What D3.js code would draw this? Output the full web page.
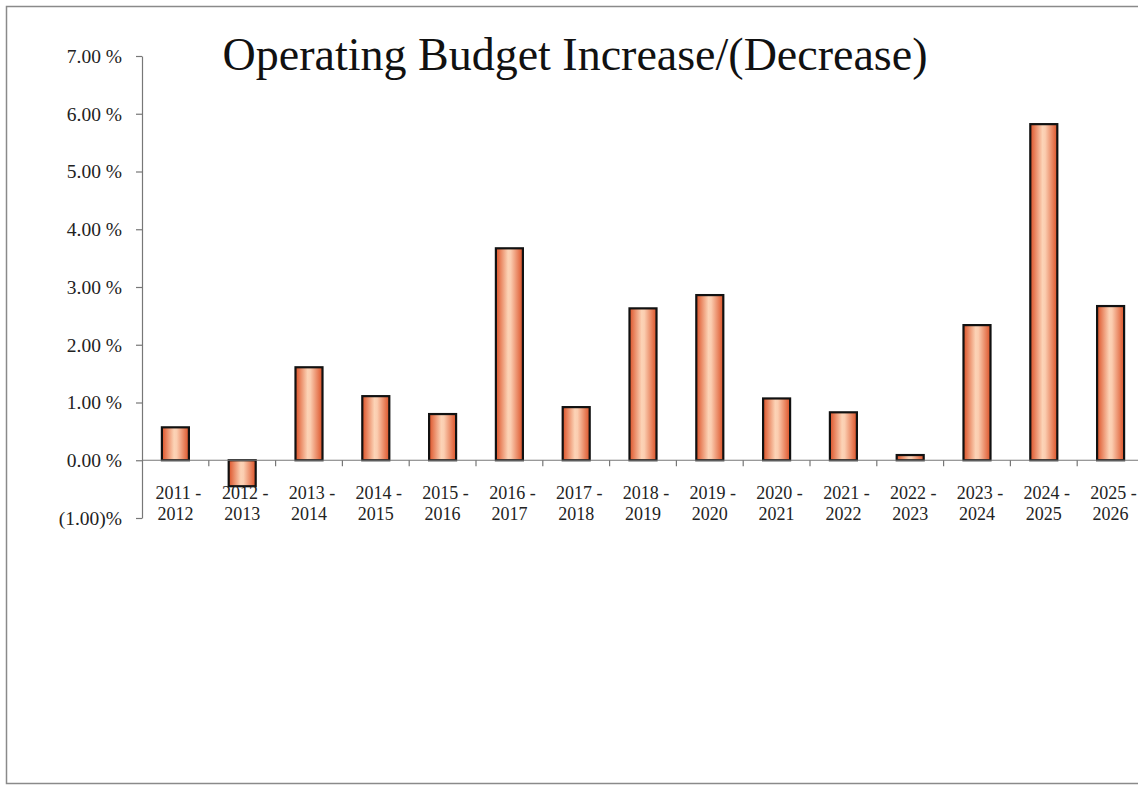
<!DOCTYPE html>
<html>
<head>
<meta charset="utf-8">
<script src="https://cdn.jsdelivr.net/npm/d3@7"></script>
<style>
  html, body { margin: 0; padding: 0; background: #fff; }
  svg { display: block; }
  svg text { font-family: "Liberation Serif", "Times New Roman", serif; }
</style>
</head>
<body>
<svg id="chart" width="1138" height="785"></svg>
<script>
// Fiscal years and the year-over-year change in the operating budget (%)
const periods = [
  "2011 - 2012", "2012 - 2013", "2013 - 2014", "2014 - 2015", "2015 - 2016",
  "2016 - 2017", "2017 - 2018", "2018 - 2019", "2019 - 2020", "2020 - 2021",
  "2021 - 2022", "2022 - 2023", "2023 - 2024", "2024 - 2025", "2025 - 2026"
];
const changePct = [0.57, -0.45, 1.61, 1.11, 0.80, 3.67, 0.92, 2.63, 2.86, 1.07, 0.83, 0.09, 2.34, 5.82, 2.67];
const yTicks = [-1, 0, 1, 2, 3, 4, 5, 6, 7];

(function () {
  const svg = d3.select("#chart");

  // page frame
  svg.append("path")
    .attr("d", "M1138,6.5 H6.5 V783.5 H1138")
    .attr("fill", "none")
    .attr("stroke", "#8a8a8a")
    .attr("stroke-width", 1.5);

  const plotLeft = 142, plotRight = 1144, plotTop = 56, plotBottom = 518;

  const x = d3.scaleBand().domain(periods).range([plotLeft, plotRight]).paddingInner(0).paddingOuter(0);
  const y = d3.scaleLinear().domain([-1, 7]).range([plotBottom, plotTop]);

  // bar fill: dark edges, light centre
  const defs = svg.append("defs");
  const grad = defs.append("linearGradient").attr("id", "barGrad")
    .attr("x1", "0%").attr("x2", "100%").attr("y1", "0%").attr("y2", "0%");
  grad.append("stop").attr("offset", "0%").attr("stop-color", "#dc5228");
  grad.append("stop").attr("offset", "45%").attr("stop-color", "#fcd3b6");
  grad.append("stop").attr("offset", "55%").attr("stop-color", "#fbcdb0");
  grad.append("stop").attr("offset", "100%").attr("stop-color", "#dc5228");

  // title
  svg.append("text")
    .attr("x", 575).attr("y", 70)
    .attr("text-anchor", "middle")
    .attr("font-size", 46)
    .attr("fill", "#111")
    .text("Operating Budget Increase/(Decrease)");

  // y axis
  const fmt = v => v < 0 ? `(${Math.abs(v).toFixed(2)})%` : `${v.toFixed(2)} %`;
  const yAxis = svg.append("g")
    .attr("transform", `translate(${plotLeft},0)`)
    .call(d3.axisLeft(y).tickValues(yTicks).tickFormat(fmt).tickSize(6).tickSizeOuter(0).tickPadding(14));
  yAxis.attr("font-family", null).attr("font-size", null);
  yAxis.select(".domain").attr("stroke", "#777").attr("stroke-width", 1.2);
  yAxis.selectAll(".tick line").attr("stroke", "#777").attr("stroke-width", 1.2);
  yAxis.selectAll(".tick text")
    .attr("font-size", 19.5).attr("fill", "#222");

  // bars
  const barW = 27;
  svg.append("g").selectAll("rect")
    .data(changePct)
    .join("rect")
    .attr("x", (d, i) => x(periods[i]) + x.bandwidth() / 2 - barW / 2)
    .attr("width", barW)
    .attr("y", d => y(Math.max(0, d)))
    .attr("height", d => Math.abs(y(d) - y(0)))
    .attr("fill", "url(#barGrad)")
    .attr("stroke", "#111")
    .attr("stroke-width", 2.2);

  // zero baseline with category dividers
  const y0 = y(0);
  svg.append("line")
    .attr("x1", plotLeft).attr("x2", plotRight)
    .attr("y1", y0).attr("y2", y0)
    .attr("stroke", "#777").attr("stroke-width", 1.2);
  svg.append("g").selectAll("line")
    .data(periods.slice(1))
    .join("line")
    .attr("x1", d => x(d)).attr("x2", d => x(d))
    .attr("y1", y0).attr("y2", y0 + 6)
    .attr("stroke", "#777").attr("stroke-width", 1.2);

  // two-line category labels
  const labels = svg.append("g").selectAll("text")
    .data(periods)
    .join("text")
    .attr("text-anchor", "middle")
    .attr("font-size", 18)
    .attr("fill", "#222");
  labels.each(function (d) {
    const parts = d.split(" - ");
    const cx = x(d) + x.bandwidth() / 2;
    const t = d3.select(this);
    t.append("tspan").attr("x", cx + 3).attr("y", y0 + 39).text(parts[0] + " -");
    t.append("tspan").attr("x", cx).attr("y", y0 + 60).text(parts[1]);
  });
})();
</script>
</body>
</html>
